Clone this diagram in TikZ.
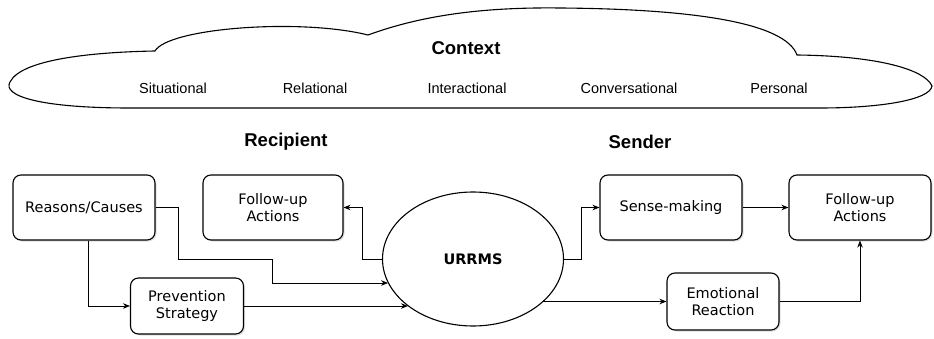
\documentclass[tikz,border=0pt]{standalone}
\usepackage{fontspec}
\setmainfont{Liberation Sans}
\newfontfamily\boxfont{DejaVu Sans}
\usetikzlibrary{arrows.meta,shadows,shapes.geometric}
\begin{document}
\begin{tikzpicture}[x=1pt,y=-1pt,
  box/.style={draw,line width=1.1pt,rounded corners=8pt,fill=white,align=center,
    font=\boxfont\fontsize{14.5}{17}\selectfont,
    drop shadow={shadow xshift=1.5pt,shadow yshift=-1.5pt,opacity=0.25}},
  ctx/.style={font=\fontsize{14.5}{17}\selectfont},
  head/.style={font=\bfseries\fontsize{18.5}{22}\selectfont},
  arr/.style={draw,line width=0.8pt,-{Stealth[length=7pt,width=5.5pt]}}]
\useasboundingbox (0,0) rectangle (934,339);
% cloud
\draw[line width=1.1pt,fill=white] (10,82) .. controls (22,58) and (100,52) .. (155,51)
  .. controls (168,28) and (300,18) .. (368,35)
  .. controls (420,16) and (480,7) .. (560,8)
  .. controls (690,9) and (785,22) .. (797,55)
  .. controls (880,56) and (925,70) .. (932,86)
  .. controls (930,100) and (880,108) .. (820,108)
  -- (130,108) .. controls (40,108) and (2,96) .. (10,82) -- cycle;
\node[head] (ctxt) at (466,48) {Context};
\node[ctx] (c1) at (173,88) {Situational};
\node[ctx] (c2) at (315,88) {Relational};
\node[ctx] (c3) at (467,88) {Interactional};
\node[ctx] (c4) at (629,88) {Conversational};
\node[ctx] (c5) at (779,88) {Personal};
\node[head] (rec) at (286,142) {Recipient};
\node[head] (snd) at (640,142) {Sender};
% boxes
\node[box,minimum width=142pt,minimum height=65pt] (rc) at (84,207.5) {Reasons/Causes};
\node[box,minimum width=140pt,minimum height=65pt] (fl) at (273,207.5) {Follow-up\\Actions};
\node[box,minimum width=113pt,minimum height=56pt] (ps) at (187,306) {Prevention\\Strategy};
\node[draw,ellipse,line width=1.1pt,fill=white,minimum width=181pt,minimum height=134pt,inner sep=0pt,
  font=\boxfont\bfseries\fontsize{14.5}{17}\selectfont] (ur) at (473,259) {URRMS};
\node[box,minimum width=142pt,minimum height=65pt] (sm) at (671,207.5) {Sense-making};
\node[box,minimum width=142pt,minimum height=65pt] (fr) at (860,207.5) {Follow-up\\Actions};
\node[box,minimum width=112pt,minimum height=57pt] (er) at (723,301.5) {Emotional\\Reaction};
% connectors
\coordinate (k1) at (178,259);
\coordinate (k2) at (272,283);
\draw[arr] (rc.east) -| (k1) -- (k2 |- k1) -- (k2) -- (k2 -| ur.196);
\draw[arr] ([xshift=4pt]rc.south) |- (ps.west);
\draw[arr] (ps.east) -- (ps.east -| ur.216);
\draw[arr] (ur.west) -- ++(-20,0) |- (fl.east);
\draw[arr] (ur.east) -- ++(17,0) |- (sm.west);
\draw[arr] (sm.east) -- (fr.west);
\draw[arr] (er.west -| ur.328) -- (er.west);
\draw[arr] (er.east) -| (fr.south);
\end{tikzpicture}
\end{document}
